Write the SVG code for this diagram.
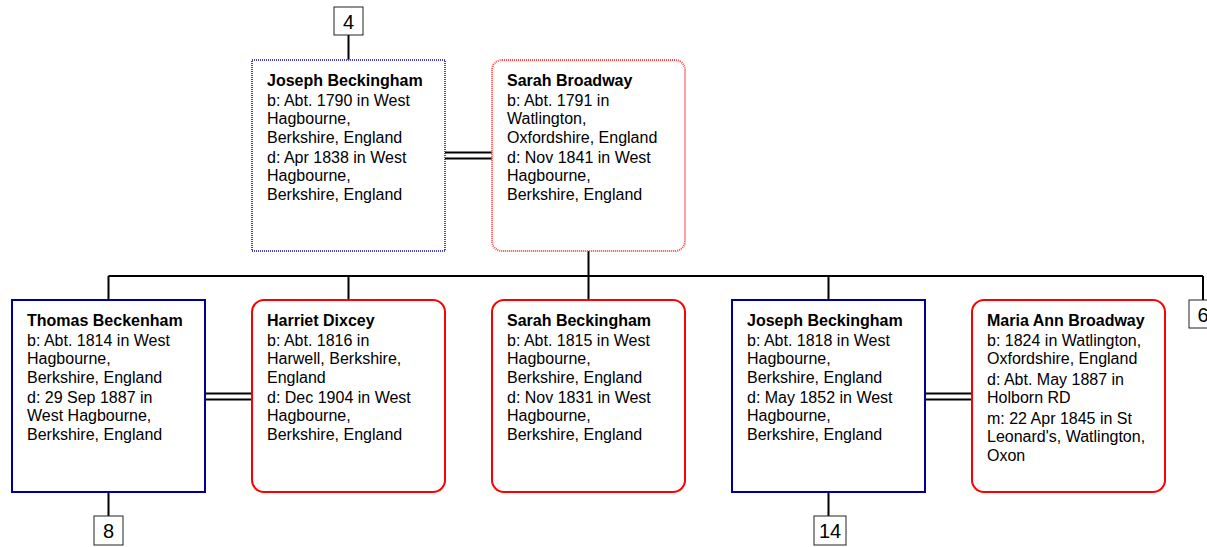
<svg xmlns="http://www.w3.org/2000/svg" width="1207" height="547" viewBox="0 0 1207 547">
<style>
text{font-family:"Liberation Sans",Arial,sans-serif;font-size:16px;fill:#000}
.nm{font-weight:bold}
.male{fill:#fff;stroke:#000099;stroke-width:2}
.female{fill:#fff;stroke:#ff0000;stroke-width:2}
.maled{fill:#fff;stroke:#4444bb;stroke-width:2;stroke-dasharray:1 1}
.femaled{fill:#fff;stroke:#ff4444;stroke-width:2;stroke-dasharray:1 1}
.ref{fill:#fff;stroke:#222;stroke-width:1}
.num{font-size:20px;text-anchor:middle}
.ln{fill:none;stroke:#000;stroke-width:2}
</style>
<g id="connectors">
<path class="ln" d="M348.5 35V60"/>
<path class="ln" d="M445 152.5H492M445 158.5H492"/>
<path class="ln" d="M588.5 251V276M108.5 276H1203M108.5 276V300M348.5 276V300M588.5 276V300M828.5 276V300M1203 276V300"/>
<path class="ln" d="M205 393.5H252M205 399.5H252M925 393.5H972M925 399.5H972"/>
<path class="ln" d="M108.5 492V516M828.5 492V516"/>
</g>
<g id="ref4"><rect class="ref" x="334" y="7" width="29" height="28"/><text class="num" x="348.5" y="29">4</text></g>
<g id="ref6"><rect class="ref" x="1189" y="300" width="29" height="28"/><text class="num" x="1203" y="322">6</text></g>
<g id="ref8"><rect class="ref" x="94" y="516" width="29" height="29"/><text class="num" x="108.5" y="538">8</text></g>
<g id="ref14"><rect class="ref" x="814" y="516" width="32" height="29"/><text class="num" x="830" y="538">14</text></g>
<g id="joseph-sr">
<rect class="maled" x="252" y="60" width="193" height="191"/>
<text x="267" y="86" class="nm">Joseph Beckingham</text>
<text x="267" y="105.5">b: Abt. 1790 in West</text>
<text x="267" y="124">Hagbourne,</text>
<text x="267" y="142.5">Berkshire, England</text>
<text x="267" y="162.5">d: Apr 1838 in West</text>
<text x="267" y="181">Hagbourne,</text>
<text x="267" y="199.5">Berkshire, England</text>
</g>
<g id="sarah-broadway">
<rect class="femaled" x="492" y="60" width="193" height="191" rx="10"/>
<text x="507" y="86" class="nm">Sarah Broadway</text>
<text x="507" y="105.5">b: Abt. 1791 in</text>
<text x="507" y="124">Watlington,</text>
<text x="507" y="142.5">Oxfordshire, England</text>
<text x="507" y="162.5">d: Nov 1841 in West</text>
<text x="507" y="181">Hagbourne,</text>
<text x="507" y="199.5">Berkshire, England</text>
</g>
<g id="thomas">
<rect class="male" x="12" y="300" width="193" height="192"/>
<text x="27" y="326" class="nm">Thomas Beckenham</text>
<text x="27" y="345.5">b: Abt. 1814 in West</text>
<text x="27" y="364">Hagbourne,</text>
<text x="27" y="382.5">Berkshire, England</text>
<text x="27" y="402.5">d: 29 Sep 1887 in</text>
<text x="27" y="421">West Hagbourne,</text>
<text x="27" y="439.5">Berkshire, England</text>
</g>
<g id="harriet">
<rect class="female" x="252" y="300" width="193" height="192" rx="12"/>
<text x="267" y="326" class="nm">Harriet Dixcey</text>
<text x="267" y="345.5">b: Abt. 1816 in</text>
<text x="267" y="364">Harwell, Berkshire,</text>
<text x="267" y="382.5">England</text>
<text x="267" y="402.5">d: Dec 1904 in West</text>
<text x="267" y="421">Hagbourne,</text>
<text x="267" y="439.5">Berkshire, England</text>
</g>
<g id="sarah-beckingham">
<rect class="female" x="492" y="300" width="193" height="192" rx="12"/>
<text x="507" y="326" class="nm">Sarah Beckingham</text>
<text x="507" y="345.5">b: Abt. 1815 in West</text>
<text x="507" y="364">Hagbourne,</text>
<text x="507" y="382.5">Berkshire, England</text>
<text x="507" y="402.5">d: Nov 1831 in West</text>
<text x="507" y="421">Hagbourne,</text>
<text x="507" y="439.5">Berkshire, England</text>
</g>
<g id="joseph-jr">
<rect class="male" x="732" y="300" width="193" height="192"/>
<text x="747" y="326" class="nm">Joseph Beckingham</text>
<text x="747" y="345.5">b: Abt. 1818 in West</text>
<text x="747" y="364">Hagbourne,</text>
<text x="747" y="382.5">Berkshire, England</text>
<text x="747" y="402.5">d: May 1852 in West</text>
<text x="747" y="421">Hagbourne,</text>
<text x="747" y="439.5">Berkshire, England</text>
</g>
<g id="maria">
<rect class="female" x="972" y="300" width="193" height="192" rx="12"/>
<text x="987" y="326" class="nm">Maria Ann Broadway</text>
<text x="987" y="345.5">b: 1824 in Watlington,</text>
<text x="987" y="364">Oxfordshire, England</text>
<text x="987" y="384.5">d: Abt. May 1887 in</text>
<text x="987" y="403">Holborn RD</text>
<text x="987" y="423.5">m: 22 Apr 1845 in St</text>
<text x="987" y="442">Leonard's, Watlington,</text>
<text x="987" y="460.5">Oxon</text>
</g>
</svg>
